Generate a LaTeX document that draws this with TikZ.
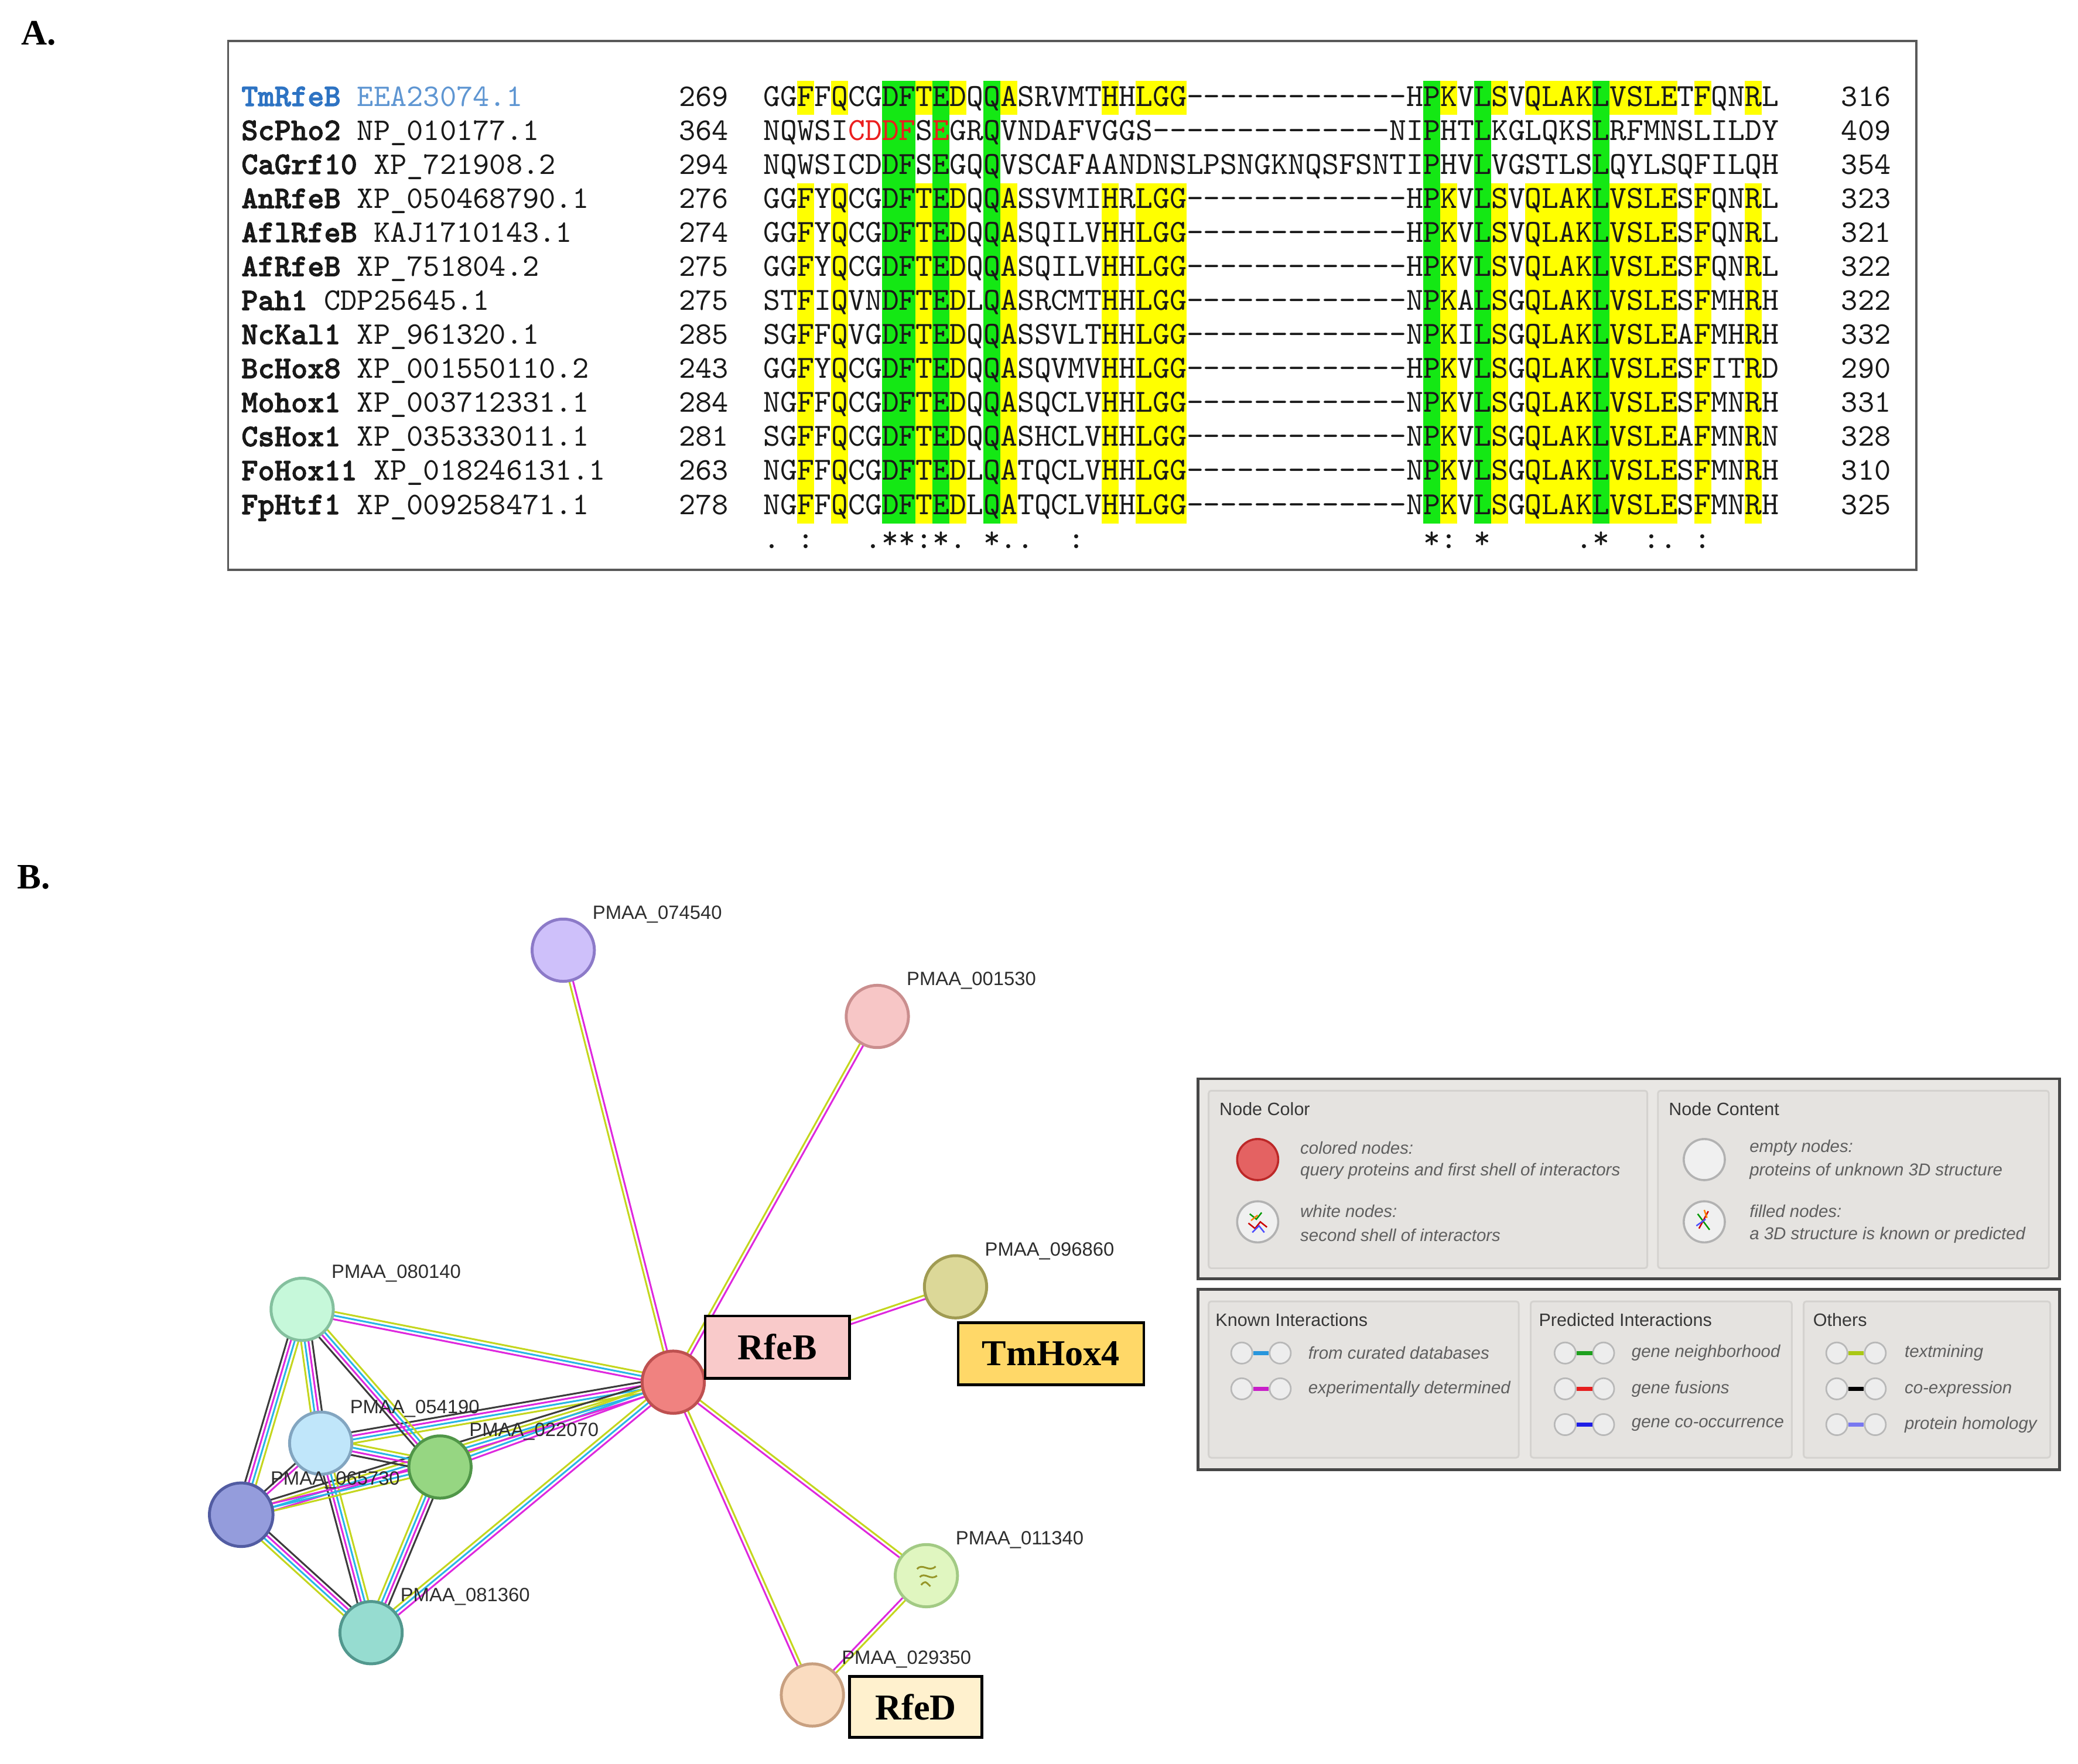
\documentclass[tikz,border=0pt]{standalone}
\usepackage{fontspec}
\setmainfont{Liberation Serif}
\setsansfont{Liberation Sans}
\newfontfamily\seqf{lmmono10-regular.otf}
\newfontfamily\nmf[BoldFont=lmmonolt10-bold.otf,BoldFeatures={FakeBold=2}]{lmmono10-regular.otf}
\usetikzlibrary{calc}
\pgfdeclarelayer{bg}
\pgfsetlayers{bg,main}
\definecolor{hly}{RGB}{255,255,0}
\definecolor{hlg}{RGB}{20,232,20}
\definecolor{seqk}{RGB}{25,25,25}
\definecolor{tmblue}{RGB}{45,115,195}
\definecolor{tmblue2}{RGB}{95,150,210}
\definecolor{seqred}{RGB}{235,30,30}
\definecolor{ctx}{RGB}{196,214,30}
\definecolor{cex}{RGB}{222,40,222}
\definecolor{cdb}{RGB}{40,182,230}
\definecolor{cco}{RGB}{60,60,60}
\definecolor{legfill}{RGB}{233,231,228}
\definecolor{panfill}{RGB}{229,227,224}
\definecolor{panline}{RGB}{212,210,207}
\definecolor{legtext}{RGB}{95,95,95}
\definecolor{leghead}{RGB}{55,55,55}
\definecolor{plab}{RGB}{45,45,45}
\newcommand\D{-\kern0pt}
\newcommand\DD{\D\D\D\D\D\D\D\D\D\D\D\D\D}
\newcommand\rd[1]{\textcolor{seqred}{#1}}
\newcommand\alrow[5]{%
  \node[nmtext] (nm#1) at (182,{74+(#1-1)*25.67+6}) {#2};
  \node[nmtext,anchor=base east] (st#1) at (550,{74+(#1-1)*25.67+6}) {#3};
  \node[sqtext] (sq#1) at (576,{74+(#1-1)*25.67+6}) {#4};
  \node[nmtext,anchor=base east] (en#1) at (1427,{74+(#1-1)*25.67+6}) {#5};
}
\newcommand\medge[3]{%
  \begin{pgfonlayer}{bg}
  \foreach \eoff/\ecol in {#3}{%
    \draw[line width=1.35pt,\ecol] ($(#1)!\eoff!90:(#2)$) -- ($(#2)!\eoff!-90:(#1)$);
  }
  \end{pgfonlayer}}
\tikzset{
  nmtext/.style={anchor=base west,inner sep=0pt,text=seqk,font=\nmf\fontsize{23.77}{26}\selectfont},
  sqtext/.style={anchor=base west,inner sep=0pt,text=seqk,font=\seqf\fontsize{24.32}{26}\selectfont},
  cstext/.style={anchor=base,inner sep=0pt,text=seqk,font=\seqf\fontsize{24.32}{26}\selectfont},
  tx/.style={draw=ctx},
  ex/.style={draw=cex},
  db/.style={draw=cdb},
  co/.style={draw=cco},
  pnode/.style={circle,minimum size=47pt,inner sep=0pt,line width=2.2pt},
  plabel/.style={anchor=west,inner sep=0pt,text=plab,font=\sffamily\fontsize{14.5}{16}\selectfont},
  namebox/.style={draw=black,line width=2pt,inner sep=0pt,font=\rmfamily\bfseries\fontsize{27.5}{30}\selectfont},
  legbox/.style={fill=legfill,draw=black!72,line width=2pt},
  panel/.style={fill=panfill,draw=panline,line width=1.3pt,rounded corners=2pt},
  lhead/.style={anchor=west,inner sep=0pt,text=leghead,font=\sffamily\fontsize{13.5}{15}\selectfont},
  litem/.style={anchor=west,inner sep=0pt,text=legtext,font=\sffamily\itshape\fontsize{13}{15}\selectfont},
  bignode/.style={circle,minimum size=31pt,inner sep=0pt,line width=1.6pt},
  micon/.style={circle,minimum size=16pt,inner sep=0pt,fill=black!7,draw=black!28,line width=1.2pt},
  secl/.style={anchor=west,inner sep=0pt,font=\rmfamily\bfseries\fontsize{27}{30}\selectfont}
}
\begin{document}
\begin{tikzpicture}[x=1pt,y=-1pt]
\useasboundingbox (0,0) rectangle (1568,1331);

% ---------------- Panel A ----------------
\node[secl] (labA) at (16,25) {A.};
\draw[draw=black!65,line width=1.5pt] (172,31) rectangle (1446,430);

% green columns (all rows)
\foreach \k/\n in {8/2,11/1,14/1,40/1,43/1,50/1}{
  \fill[hlg] ({576+(\k-1)*12.77},{74-12.835}) rectangle ++({\n*12.77},{13*25.67});
}
% yellow columns (row 1 and rows 4-13)
\foreach \k/\n in {3/1,5/1,10/1,12/1,15/1,21/1,23/3,41/1,44/1,46/4,51/4,56/1,59/1}{
  \fill[hly] ({576+(\k-1)*12.77},{74-12.835}) rectangle ++({\n*12.77},25.67);
  \fill[hly] ({576+(\k-1)*12.77},{74+2.5*25.67}) rectangle ++({\n*12.77},{10*25.67});
}

\alrow{1}{\textcolor{tmblue}{\bfseries TmRfeB} \textcolor{tmblue2}{EEA23074.1}}{269}{GGFFQCGDFTEDQQASRVMTHHLGG\DD HPKVLSVQLAKLVSLETFQNRL}{316}
\alrow{2}{\bfseries ScPho2\mdseries{} NP\_010177.1}{364}{NQWSI\rd{CDDF}S\rd{E}GRQVNDAFVGGS\DD\D NIPHTLKGLQKSLRFMNSLILDY}{409}
\alrow{3}{\bfseries CaGrf10\mdseries{} XP\_721908.2}{294}{NQWSICDDFSEGQQVSCAFAANDNSLPSNGKNQSFSNTIPHVLVGSTLSLQYLSQFILQH}{354}
\alrow{4}{\bfseries AnRfeB\mdseries{} XP\_050468790.1}{276}{GGFYQCGDFTEDQQASSVMIHRLGG\DD HPKVLSVQLAKLVSLESFQNRL}{323}
\alrow{5}{\bfseries AflRfeB\mdseries{} KAJ1710143.1}{274}{GGFYQCGDFTEDQQASQILVHHLGG\DD HPKVLSVQLAKLVSLESFQNRL}{321}
\alrow{6}{\bfseries AfRfeB\mdseries{} XP\_751804.2}{275}{GGFYQCGDFTEDQQASQILVHHLGG\DD HPKVLSVQLAKLVSLESFQNRL}{322}
\alrow{7}{\bfseries Pah1\mdseries{} CDP25645.1}{275}{STFIQVNDFTEDLQASRCMTHHLGG\DD NPKALSGQLAKLVSLESFMHRH}{322}
\alrow{8}{\bfseries NcKal1\mdseries{} XP\_961320.1}{285}{SGFFQVGDFTEDQQASSVLTHHLGG\DD NPKILSGQLAKLVSLEAFMHRH}{332}
\alrow{9}{\bfseries BcHox8\mdseries{} XP\_001550110.2}{243}{GGFYQCGDFTEDQQASQVMVHHLGG\DD HPKVLSGQLAKLVSLESFITRD}{290}
\alrow{10}{\bfseries Mohox1\mdseries{} XP\_003712331.1}{284}{NGFFQCGDFTEDQQASQCLVHHLGG\DD NPKVLSGQLAKLVSLESFMNRH}{331}
\alrow{11}{\bfseries CsHox1\mdseries{} XP\_035333011.1}{281}{SGFFQCGDFTEDQQASHCLVHHLGG\DD NPKVLSGQLAKLVSLEAFMNRN}{328}
\alrow{12}{\bfseries FoHox11\mdseries{} XP\_018246131.1}{263}{NGFFQCGDFTEDLQATQCLVHHLGG\DD NPKVLSGQLAKLVSLESFMNRH}{310}
\alrow{13}{\bfseries FpHtf1\mdseries{} XP\_009258471.1}{278}{NGFFQCGDFTEDLQATQCLVHHLGG\DD NPKVLSGQLAKLVSLESFMNRH}{325}

% consensus line
\foreach \k/\s in {1/.,3/:,7/.,8/*,9/*,10/:,11/*,12/.,14/*,15/.,16/.,19/:,40/*,41/:,43/*,49/.,50/*,53/:,54/.,56/:}{
  \node[cstext] at ({576+(\k-0.5)*12.77},414) {\s};
}

% ---------------- Panel B ----------------
\node[secl] (labB) at (13,662) {B.};

% nodes
\node[pnode,fill={rgb,255:red,240;green,130;blue,128},draw={rgb,255:red,190;green,80;blue,80}] (c) at (508,1043) {};
\node[pnode,fill={rgb,255:red,206;green,192;blue,250},draw={rgb,255:red,140;green,122;blue,200}] (n074540) at (425,717) {};
\node[pnode,fill={rgb,255:red,247;green,198;blue,198},draw={rgb,255:red,202;green,142;blue,142}] (n001530) at (662,767) {};
\node[pnode,fill={rgb,255:red,220;green,216;blue,152},draw={rgb,255:red,160;green,155;blue,82}] (n096860) at (721,971) {};
\node[pnode,fill={rgb,255:red,198;green,248;blue,218},draw={rgb,255:red,132;green,192;blue,158}] (n080140) at (228,988) {};
\node[pnode,fill={rgb,255:red,192;green,230;blue,250},draw={rgb,255:red,130;green,165;blue,192}] (n054190) at (242,1089) {};
\node[pnode,fill={rgb,255:red,150;green,214;blue,130},draw={rgb,255:red,80;green,150;blue,72}] (n022070) at (332,1107) {};
\node[pnode,minimum size=48pt,fill={rgb,255:red,148;green,156;blue,220},draw={rgb,255:red,82;green,92;blue,162}] (n065730) at (182,1143) {};
\node[pnode,fill={rgb,255:red,150;green,220;blue,208},draw={rgb,255:red,82;green,152;blue,142}] (n081360) at (280,1232) {};
\node[pnode,fill={rgb,255:red,224;green,246;blue,192},draw={rgb,255:red,162;green,202;blue,132}] (n011340) at (699,1189) {};
\node[pnode,fill={rgb,255:red,250;green,220;blue,192},draw={rgb,255:red,200;green,160;blue,128}] (n029350) at (613,1279) {};

% structure scribble inside PMAA_011340
\draw[line width=1.3pt,draw={rgb,255:red,150;green,150;blue,40}]
  ($(n011340)+(-7,-5)$) .. controls ($(n011340)+(-3,-10)$) and ($(n011340)+(2,-2)$) .. ($(n011340)+(7,-7)$)
  ($(n011340)+(-5,1)$) .. controls ($(n011340)+(-1,-3)$) and ($(n011340)+(3,4)$) .. ($(n011340)+(8,0)$)
  ($(n011340)+(-4,7)$) .. controls ($(n011340)+(-1,4)$) .. ($(n011340)+(3,8)$);

% edges
\medge{c}{n074540}{-1.4pt/ex,1.4pt/tx}
\medge{c}{n001530}{-1.4pt/ex,1.4pt/tx}
\medge{c}{n096860}{-1.4pt/ex,1.4pt/tx}
\medge{c}{n011340}{-1.4pt/ex,1.4pt/tx}
\medge{c}{n029350}{-1.4pt/ex,1.4pt/tx}
\medge{n011340}{n029350}{-1.4pt/ex,1.4pt/tx}
\medge{n080140}{c}{-2.8pt/ex,0pt/db,2.8pt/tx}
\medge{n054190}{c}{-4.2pt/tx,-1.4pt/db,1.4pt/ex,4.2pt/co}
\medge{n022070}{c}{-2.8pt/ex,0pt/db,2.8pt/tx}
\medge{n065730}{c}{-4.2pt/ex,-1.4pt/db,1.4pt/tx,4.2pt/co}
\medge{n081360}{c}{-2.8pt/ex,0pt/db,2.8pt/tx}
\medge{n080140}{n065730}{-4.2pt/co,-1.4pt/ex,1.4pt/db,4.2pt/tx}
\medge{n080140}{n054190}{-4.2pt/tx,-1.4pt/db,1.4pt/ex,4.2pt/co}
\medge{n080140}{n022070}{-4.2pt/co,-1.4pt/ex,1.4pt/db,4.2pt/tx}
\medge{n054190}{n022070}{-4.2pt/co,-1.4pt/ex,1.4pt/db,4.2pt/tx}
\medge{n054190}{n065730}{-1.4pt/co,1.4pt/ex}
\medge{n054190}{n081360}{-4.2pt/co,-1.4pt/ex,1.4pt/db,4.2pt/tx}
\medge{n022070}{n065730}{-2.8pt/ex,0pt/db,2.8pt/tx}
\medge{n022070}{n081360}{-4.2pt/tx,-1.4pt/db,1.4pt/ex,4.2pt/co}
\medge{n065730}{n081360}{-4.2pt/tx,-1.4pt/db,1.4pt/ex,4.2pt/co}

% node labels
\node[plabel] (l074540) at ($(n074540)+(22,-27)$) {PMAA\_074540};
\node[plabel] (l001530) at ($(n001530)+(22,-27)$) {PMAA\_001530};
\node[plabel] (l096860) at ($(n096860)+(22,-27)$) {PMAA\_096860};
\node[plabel] (l080140) at ($(n080140)+(22,-27)$) {PMAA\_080140};
\node[plabel] (l054190) at ($(n054190)+(22,-26)$) {PMAA\_054190};
\node[plabel] (l022070) at ($(n022070)+(22,-27)$) {PMAA\_022070};
\node[plabel] (l065730) at ($(n065730)+(22,-26)$) {PMAA\_065730};
\node[plabel] (l081360) at ($(n081360)+(22,-27)$) {PMAA\_081360};
\node[plabel] (l011340) at ($(n011340)+(22,-27)$) {PMAA\_011340};
\node[plabel] (l029350) at ($(n029350)+(22,-27)$) {PMAA\_029350};

% name boxes
\node[namebox,fill={rgb,255:red,249;green,202;blue,202},minimum width=109pt,minimum height=47pt] (bRfeB) at (586.5,1016.5) {RfeB};
\node[namebox,fill={rgb,255:red,255;green,216;blue,104},minimum width=140pt,minimum height=47pt] (bTmHox4) at (793,1021.5) {TmHox4};
\node[namebox,fill={rgb,255:red,255;green,241;blue,206},minimum width=100pt,minimum height=46pt] (bRfeD) at (691,1288) {RfeD};

% ---------------- Legend ----------------
\draw[legbox] (904,814) rectangle (1554,965);
\draw[panel] (912,823) rectangle (1243,957);
\draw[panel] (1251,823) rectangle (1546,957);
\node[lhead] (hNC) at (920,837) {Node Color};
\node[lhead] (hNT) at (1259,837) {Node Content};
\node[bignode,fill={rgb,255:red,228;green,98;blue,98},draw={rgb,255:red,188;green,40;blue,40}] (iColored) at (949,875) {};
\node[bignode,fill=black!6,draw=black!30] (iWhite) at (949,922) {};
\draw[line width=1.1pt,green!60!black] ($(iWhite)+(-6,-6)$) -- ($(iWhite)+(-1,-2)$) -- ($(iWhite)+(3,-7)$);
\draw[line width=1.1pt,red!80!black] ($(iWhite)+(-7,1)$) -- ($(iWhite)+(-2,5)$) -- ($(iWhite)+(2,0)$) -- ($(iWhite)+(7,4)$);
\draw[line width=1.1pt,blue!70] ($(iWhite)+(-4,8)$) -- ($(iWhite)+(1,3)$) -- ($(iWhite)+(5,8)$);
\draw[line width=1.1pt,orange] ($(iWhite)+(-5,-1)$) -- ($(iWhite)+(0,-5)$);
\node[litem] (tColA) at (981,866) {colored nodes:};
\node[litem] (tColB) at (981,884) {query proteins and first shell of interactors};
\node[litem] (tWhA) at (981,914) {white nodes:};
\node[litem] (tWhB) at (981,932) {second shell of interactors};
\node[bignode,fill=black!6,draw=black!30] (iEmpty) at (1286,875) {};
\node[bignode,fill=black!6,draw=black!30] (iFilled) at (1286,922) {};
\draw[line width=1.1pt,green!60!black] ($(iFilled)+(-5,-6)$) -- ($(iFilled)+(4,6)$);
\draw[line width=1.1pt,red!80!black] ($(iFilled)+(3,-8)$) -- ($(iFilled)+(-4,5)$);
\draw[line width=1.1pt,blue!70] ($(iFilled)+(-6,3)$) -- ($(iFilled)+(1,-2)$);
\draw[line width=1.1pt,orange] ($(iFilled)+(0,-9)$) -- ($(iFilled)+(2,-3)$);
\node[litem] (tEmA) at (1320,866) {empty nodes:};
\node[litem] (tEmB) at (1320,884) {proteins of unknown 3D structure};
\node[litem] (tFiA) at (1320,914) {filled nodes:};
\node[litem] (tFiB) at (1320,932) {a 3D structure is known or predicted};

\draw[legbox] (904,973) rectangle (1554,1109);
\draw[panel] (912,982) rectangle (1146,1100);
\draw[panel] (1155,982) rectangle (1352,1100);
\draw[panel] (1361,982) rectangle (1547,1100);
\node[lhead] (hKI) at (917,996) {Known Interactions};
\node[lhead] (hPI) at (1161,996) {Predicted Interactions};
\node[lhead] (hOT) at (1368,996) {Others};

\node[micon] (k1a) at (937,1021) {}; \node[micon] (k1b) at (966,1021) {};
\draw[line width=3pt,draw={rgb,255:red,40;green,150;blue,220}] (k1a) -- (k1b);
\node[micon] (k2a) at (937,1048) {}; \node[micon] (k2b) at (966,1048) {};
\draw[line width=3pt,draw={rgb,255:red,200;green,30;blue,200}] (k2a) -- (k2b);
\node[litem] (tK1) at (987,1021) {from curated databases};
\node[litem] (tK2) at (987,1048) {experimentally determined};

\node[micon] (p1a) at (1181,1021) {}; \node[micon] (p1b) at (1210,1021) {};
\draw[line width=3pt,draw={rgb,255:red,30;green,160;blue,30}] (p1a) -- (p1b);
\node[micon] (p2a) at (1181,1048) {}; \node[micon] (p2b) at (1210,1048) {};
\draw[line width=3pt,draw={rgb,255:red,230;green,30;blue,30}] (p2a) -- (p2b);
\node[micon] (p3a) at (1181,1075) {}; \node[micon] (p3b) at (1210,1075) {};
\draw[line width=3pt,draw={rgb,255:red,30;green,30;blue,230}] (p3a) -- (p3b);
\node[litem] (tP1) at (1231,1021) {gene neighborhood};
\node[litem] (tP2) at (1231,1048) {gene fusions};
\node[litem] (tP3) at (1231,1075) {gene co-occurrence};

\node[micon] (o1a) at (1386,1021) {}; \node[micon] (o1b) at (1415,1021) {};
\draw[line width=3pt,draw={rgb,255:red,170;green,200;blue,20}] (o1a) -- (o1b);
\node[micon] (o2a) at (1386,1048) {}; \node[micon] (o2b) at (1415,1048) {};
\draw[line width=3pt,draw=black] (o2a) -- (o2b);
\node[micon] (o3a) at (1386,1075) {}; \node[micon] (o3b) at (1415,1075) {};
\draw[line width=3pt,draw={rgb,255:red,120;green,120;blue,240}] (o3a) -- (o3b);
\node[litem] (tO1) at (1437,1021) {textmining};
\node[litem] (tO2) at (1437,1048) {co-expression};
\node[litem] (tO3) at (1437,1075) {protein homology};
\end{tikzpicture}
\end{document}
